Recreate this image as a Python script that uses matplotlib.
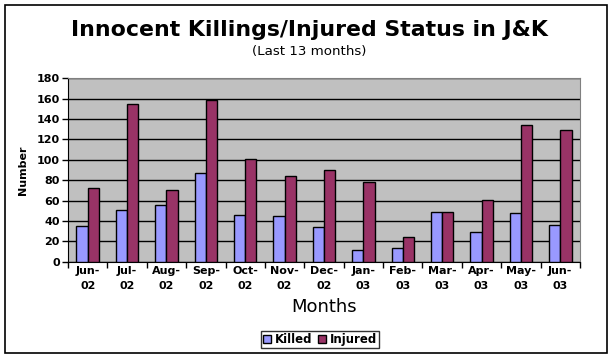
import numpy as np
import matplotlib
matplotlib.use("Agg")
import matplotlib.pyplot as plt
import matplotlib.patches as patches

# Data
months = ['Jun-\n02', 'Jul-\n02', 'Aug-\n02', 'Sep-\n02', 'Oct-\n02', 'Nov-\n02', 'Dec-\n02',
          'Jan-\n03', 'Feb-\n03', 'Mar-\n03', 'Apr-\n03', 'May-\n03', 'Jun-\n03']
killed = [35, 51, 56, 87, 46, 45, 34, 11, 13, 49, 29, 48, 36]
injured = [72, 155, 70, 159, 101, 84, 90, 78, 24, 49, 61, 134, 129]
y_ticks = [0, 20, 40, 60, 80, 100, 120, 140, 160, 180]

W, H = 613, 358
fig = plt.figure(figsize=(W / 100, H / 100), dpi=100)
fig.patch.set_facecolor('white')

# outer chart border
fig.add_artist(patches.Rectangle((5 / W, 1 - 353 / H), 602 / W, 348 / H,
                                 transform=fig.transFigure, fill=False,
                                 edgecolor='black', linewidth=1.2))

ax = fig.add_axes([68 / W, 1 - 261.7 / H, 512 / W, 183.4 / H])
ax.set_facecolor('#C0C0C0')

x = np.arange(len(months)) + 0.5
bw = 1 / 3.5
ax.bar(x - bw / 2, killed, bw, color='#9999FF', edgecolor='black', linewidth=1, zorder=3, label='Killed')
ax.bar(x + bw / 2, injured, bw, color='#993366', edgecolor='black', linewidth=1, zorder=3, label='Injured')

ax.set_xlim(0, len(months))
ax.set_ylim(0, 180)
ax.set_yticks(y_ticks)
ax.set_yticklabels([str(v) for v in y_ticks], fontsize=8, fontweight='bold')
ax.yaxis.grid(True, color='black', linewidth=1, zorder=1)
ax.set_axisbelow(True)

ax.set_xticks(np.arange(len(months) + 1))
ax.set_xticklabels([])
ax.set_xticks(x, minor=True)
ax.set_xticklabels(months, minor=True, fontsize=8, fontweight='bold', linespacing=1.6)
ax.tick_params(axis='x', which='minor', length=0, pad=3)
ax.tick_params(axis='x', which='major', length=4, direction='out', width=1)
ax.tick_params(axis='y', length=4, direction='out', width=1, pad=2)

ax.spines['top'].set_color('#808080')
ax.spines['right'].set_color('#808080')
ax.spines['left'].set_color('black')
ax.spines['bottom'].set_color('black')

ax.set_ylabel('Number', fontsize=8, fontweight='bold', labelpad=6)
ax.set_xlabel('Months', fontsize=13, labelpad=5)

fig.text(0.505, 1 - 30 / H, 'Innocent Killings/Injured Status in J&K',
         ha='center', va='center', fontsize=15.8, fontweight='bold')
fig.text(0.505, 1 - 51 / H, '(Last 13 months)', ha='center', va='center', fontsize=9.6)

leg = fig.legend(loc='center', bbox_to_anchor=(320 / W, 1 - 339.5 / H), ncol=2,
                 prop={'size': 8.5, 'weight': 'bold'}, frameon=True, fancybox=False,
                 edgecolor='black', handlelength=0.7, handleheight=0.7,
                 handletextpad=0.3, columnspacing=0.5, borderpad=0.2,
                 borderaxespad=0)
leg.get_frame().set_linewidth(1)

fig.savefig('out.png', dpi=100)
